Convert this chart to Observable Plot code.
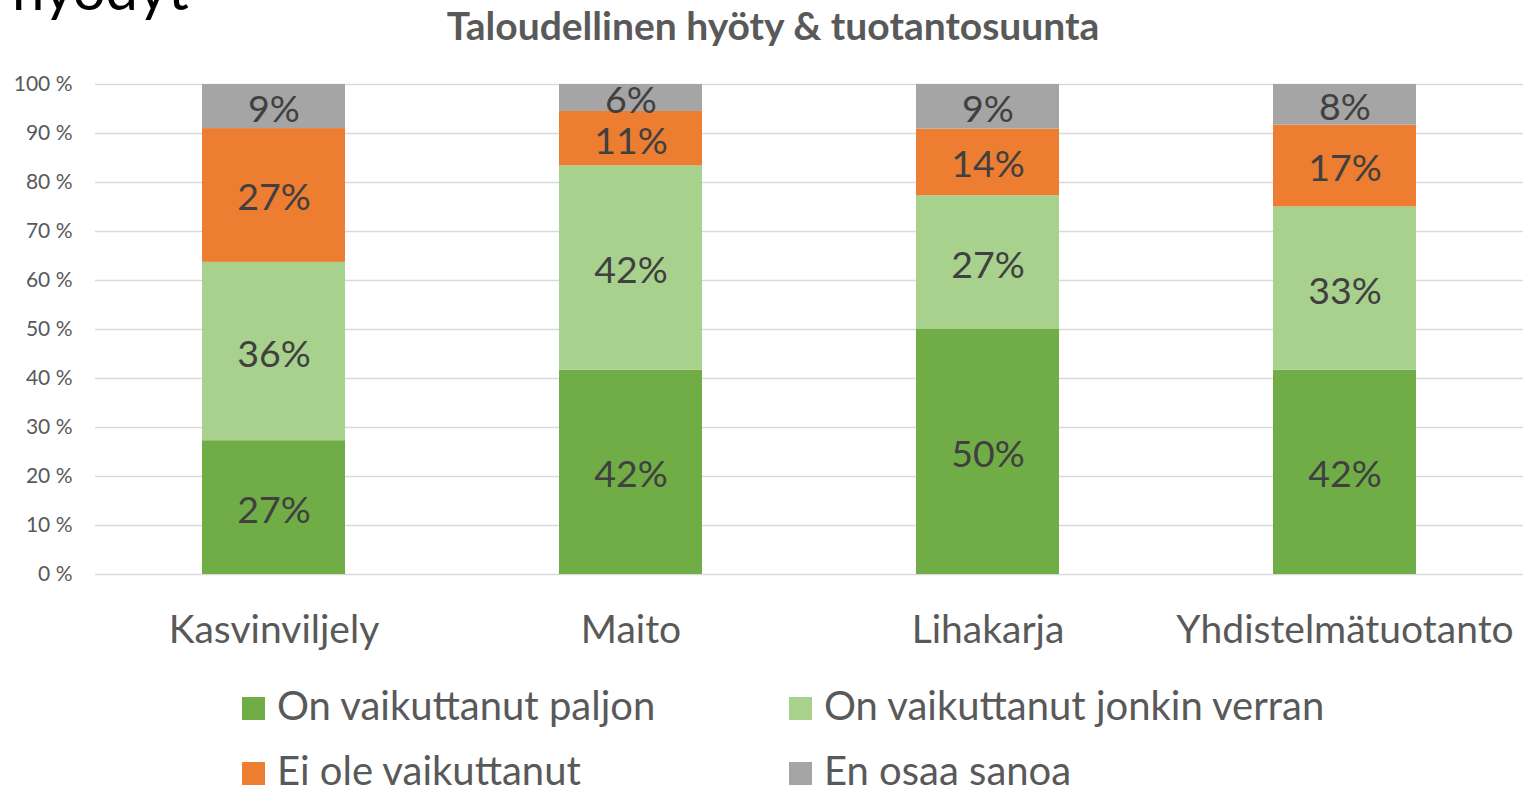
<!DOCTYPE html>
<html>
<head>
<meta charset="utf-8">
<script src="https://cdn.jsdelivr.net/npm/d3@7"></script>
<script src="https://cdn.jsdelivr.net/npm/@observablehq/plot@0.6"></script>
<style>
  html, body { margin: 0; padding: 0; background: #fff; }
  #wrap { position: relative; width: 1524px; height: 787px; overflow: hidden; font-family: Lato, "Open Sans", sans-serif; }
  #wrap svg { position: absolute; left: 0; top: 0; }
  .abs { position: absolute; white-space: nowrap; }
  #big { left: 12px; top: -41px; font-size: 58px; line-height: 58px; color: #000; }
  #title { left: 0; width: 1546px; text-align: center; top: 3px; font-size: 39px; line-height: 44px; font-weight: bold; color: #595959; }
  .leg { font-size: 40px; color: #595959; line-height: 42px; }
  .sw { display: inline-block; width: 23px; height: 23px; margin-right: 12px; vertical-align: 0px; }
</style>
</head>
<body>
<div id="wrap">
  <div id="big" class="abs">hyödyt</div>
  <div id="title" class="abs">Taloudellinen hyöty &amp; tuotantosuunta</div>
</div>
<script>
const categories = ["Kasvinviljely", "Maito", "Lihakarja", "Yhdistelmätuotanto"];
const seriesNames = ["On vaikuttanut paljon", "On vaikuttanut jonkin verran", "Ei ole vaikuttanut", "En osaa sanoa"];
const seriesColors = ["#70ad47", "#a9d18e", "#ed7d31", "#a5a5a5"];
// values (%) per series, in category order
const paljon   = [27.3, 41.7, 50.0, 41.7];
const jonkin   = [36.4, 41.7, 27.3, 33.3];
const eiOle    = [27.3, 11.1, 13.6, 16.7];
const enOsaa   = [9.0, 5.5, 9.1, 8.3];
const yTicks = [0, 10, 20, 30, 40, 50, 60, 70, 80, 90, 100];

const seriesValues = [paljon, jonkin, eiOle, enOsaa];
const data = [];
seriesNames.forEach((s, si) => {
  categories.forEach((c, ci) => {
    data.push({cat: c, series: s, value: seriesValues[si][ci]});
  });
});

const chart = Plot.plot({
  width: 1524,
  height: 787,
  marginTop: 84,
  marginBottom: 213,
  marginLeft: 95,
  marginRight: 1,
  style: {fontFamily: "Lato, 'Open Sans', sans-serif", background: "transparent"},
  x: {domain: categories, paddingInner: 0.6, paddingOuter: 0.3, label: null},
  y: {domain: [0, 100], label: null},
  color: {domain: seriesNames, range: seriesColors},
  marks: [
    Plot.ruleY(yTicks, {stroke: "#d9d9d9", strokeWidth: 1.5}),
    Plot.barY(data, Plot.stackY({x: "cat", y: "value", z: "series", fill: "series", order: seriesNames})),
    Plot.text(data, Plot.stackY({x: "cat", y: "value", z: "series", order: seriesNames,
      text: d => Math.round(d.value) + "%", fontSize: 37.5, dy: 3, fill: "#404040"})),
    Plot.axisY({ticks: yTicks, tickFormat: d => d + " %", tickSize: 0, tickPadding: 23, fontSize: 21, color: "#595959", label: null}),
    Plot.axisX({tickSize: 0, tickPadding: 41, fontSize: 39, color: "#595959", label: null})
  ]
});
const wrap = document.getElementById("wrap");
wrap.insertBefore(chart, wrap.firstChild);

// legend
const legPos = [[242, 705], [789, 705], [242, 770], [789, 770]];
seriesNames.forEach((s, i) => {
  const d = document.createElement("div");
  d.className = "abs leg";
  d.style.left = legPos[i][0] + "px";
  d.style.top = (legPos[i][1] - 21) + "px";
  d.innerHTML = `<span class="sw" style="background:${seriesColors[i]}"></span>${s}`;
  wrap.appendChild(d);
});
</script>
</body>
</html>
